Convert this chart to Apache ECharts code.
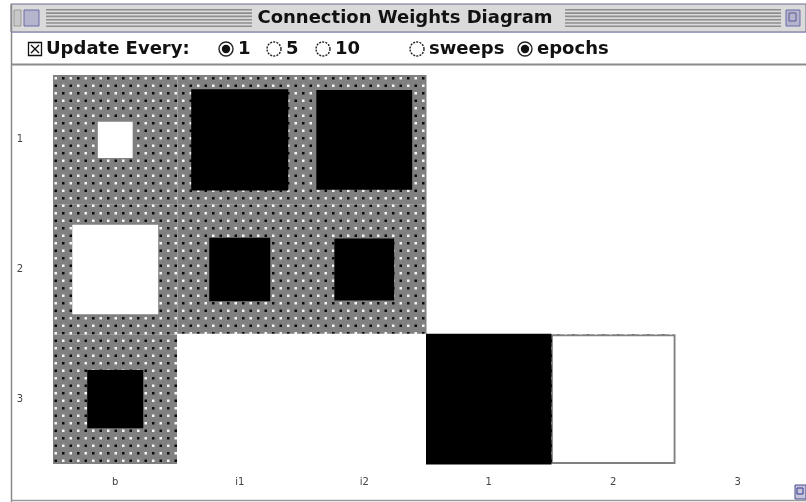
<!DOCTYPE html>
<html><head><meta charset="utf-8">
<script src="https://cdn.jsdelivr.net/npm/echarts@6/dist/echarts.min.js"></script>
<style>html,body{margin:0;padding:0;background:#fff;}#c{width:806px;height:502px;}</style>
</head><body><div id="c"></div>
<script>
// ---- data ----
const toUnits = ['1', '2', '3'];
const fromUnits = ['b', 'i1', 'i2', '1', '2', '3'];
// signed weights, scaled so that 1 fills a whole cell (null = no connection)
const weightsTo1 = [0.28, -0.78, -0.77, null, null, null];
const weightsTo2 = [0.69, -0.49, -0.48, null, null, null];
const weightsTo3 = [-0.45, 1.0, 1.0, -1.0, 0.97, null];
const titleText = 'Connection Weights Diagram';
const updateLabel = 'Update Every:';
const intervalOptions = ['1', '5', '10'];
const intervalSelected = '1';
const modeOptions = ['sweeps', 'epochs'];
const modeSelected = 'epochs';

const weightRows = [weightsTo1, weightsTo2, weightsTo3];
const cells = [];
weightRows.forEach((row, r) => row.forEach((w, c) => { if (w !== null) cells.push([c, r, w]); }));

function makePattern() {
  const cv = document.createElement('canvas');
  cv.width = 15; cv.height = 15;
  const g = cv.getContext('2d');
  g.fillStyle = '#808080'; g.fillRect(0, 0, 15, 15);
  g.fillStyle = '#0a0a0a'; g.fillRect(2, 2, 2.5, 2.5); g.fillRect(9.5, 9.5, 2.5, 2.5);
  g.fillStyle = '#f6f6f6'; g.fillRect(9.5, 2, 2.5, 2.5); g.fillRect(2, 9.5, 2.5, 2.5);
  return cv;
}
const pattern = { image: makePattern(), repeat: 'repeat' };

const chart = echarts.init(document.getElementById('c'), null, { renderer: 'canvas' });
const FONT = '"DejaVu Sans", sans-serif';
const UIFONT = 'bold 18px ' + FONT;

// window chrome
const chrome = [];
chrome.push({ type: 'rect', shape: { x: 11, y: 4, width: 795, height: 28 }, style: { fill: '#dadada', stroke: '#6a6a8a', lineWidth: 1 } });
[[46, 206], [565, 216]].forEach(([x, w]) => {
  for (let i = 0; i < 6; i++) {
    chrome.push({ type: 'rect', shape: { x: x, y: 9 + i * 3.3, width: w, height: 1.6 }, style: { fill: '#8e8e8e' } });
  }
});
chrome.push({ type: 'rect', shape: { x: 14, y: 10, width: 7, height: 16 }, style: { fill: '#c8c8c8', stroke: '#9a9a9a' } });
chrome.push({ type: 'rect', shape: { x: 24, y: 10, width: 15, height: 16 }, style: { fill: '#b4b4cc', stroke: '#6a6aa8' } });
chrome.push({ type: 'rect', shape: { x: 786, y: 10, width: 14, height: 16 }, style: { fill: '#b4b4cc', stroke: '#6a6aa8' } });
chrome.push({ type: 'rect', shape: { x: 789, y: 13, width: 7, height: 8 }, style: { fill: 'none', stroke: '#5a5a98' } });
chrome.push({ type: 'text', x: 405, y: 18, style: { text: titleText, font: UIFONT, fill: '#111', align: 'center', verticalAlign: 'middle' } });
chrome.push({ type: 'line', shape: { x1: 11, y1: 32.5, x2: 806, y2: 32.5 }, style: { stroke: '#a0a0cc', lineWidth: 1 } });
chrome.push({ type: 'line', shape: { x1: 11, y1: 64.5, x2: 806, y2: 64.5 }, style: { stroke: '#8a8a8a', lineWidth: 2 } });
chrome.push({ type: 'line', shape: { x1: 11.5, y1: 4, x2: 11.5, y2: 502 }, style: { stroke: '#8a8a8a', lineWidth: 1.5 } });
chrome.push({ type: 'line', shape: { x1: 11, y1: 500.5, x2: 806, y2: 500.5 }, style: { stroke: '#9a9a9a', lineWidth: 1.5 } });
// checkbox
chrome.push({ type: 'rect', shape: { x: 28.5, y: 42.5, width: 13, height: 13 }, style: { fill: '#fff', stroke: '#111', lineWidth: 1.3 } });
chrome.push({ type: 'line', shape: { x1: 31, y1: 45, x2: 39, y2: 53 }, style: { stroke: '#111', lineWidth: 1.3 } });
chrome.push({ type: 'line', shape: { x1: 39, y1: 45, x2: 31, y2: 53 }, style: { stroke: '#111', lineWidth: 1.3 } });
chrome.push({ type: 'text', x: 46, y: 49, style: { text: updateLabel, font: UIFONT, fill: '#111', verticalAlign: 'middle' } });
function radio(cx, label, on) {
  chrome.push({ type: 'circle', shape: { cx: cx, cy: 49, r: 7 }, style: { fill: '#fff', stroke: '#222', lineWidth: 1.4, lineDash: on ? null : [2, 1.2] } });
  if (on) chrome.push({ type: 'circle', shape: { cx: cx, cy: 49, r: 4.2 }, style: { fill: '#111' } });
  chrome.push({ type: 'text', x: cx + 12, y: 49, style: { text: label, font: UIFONT, fill: '#111', verticalAlign: 'middle' } });
}
const intervalX = [226, 274, 323];
intervalOptions.forEach((o, i) => radio(intervalX[i], o, o === intervalSelected));
const modeX = [417, 525];
modeOptions.forEach((o, i) => radio(modeX[i], o, o === modeSelected));
// resize icon
chrome.push({ type: 'rect', shape: { x: 795, y: 485, width: 11, height: 14 }, style: { fill: '#c4c4dc', stroke: '#4a4a8a' } });
chrome.push({ type: 'rect', shape: { x: 797, y: 488, width: 6, height: 6 }, style: { fill: 'none', stroke: '#3a3a8a' } });

chart.setOption({
  animation: false,
  backgroundColor: '#fff',
  grid: { left: 53, right: 6, top: 75, bottom: 38, containLabel: false },
  xAxis: {
    type: 'category', data: fromUnits, position: 'bottom',
    axisLine: { show: false }, axisTick: { show: false }, splitLine: { show: false },
    axisLabel: { color: '#444', fontFamily: FONT, fontSize: 10, margin: 13 }
  },
  yAxis: {
    type: 'category', data: toUnits, inverse: true,
    axisLine: { show: false }, axisTick: { show: false }, splitLine: { show: false },
    axisLabel: { color: '#444', fontFamily: FONT, fontSize: 10, margin: 33, align: 'center' }
  },
  graphic: chrome,
  series: [
    {
      type: 'custom', name: 'connections', data: cells,
      renderItem: (params, api) => {
        const p = api.coord([api.value(0), api.value(1)]);
        const s = api.size([1, 1]);
        return { type: 'rect', shape: { x: p[0] - s[0] / 2, y: p[1] - s[1] / 2, width: s[0], height: s[1] }, style: { fill: pattern } };
      }
    },
    {
      type: 'custom', name: 'weights', data: cells,
      renderItem: (params, api) => {
        const p = api.coord([api.value(0), api.value(1)]);
        const s = api.size([1, 1]);
        const w = api.value(2);
        const a = Math.abs(w);
        const ww = s[0] * a + (a >= 1 ? 1 : 0), hh = s[1] * a + (a >= 1 ? 1 : 0);
        return { type: 'rect', shape: { x: p[0] - ww / 2, y: p[1] - hh / 2, width: ww, height: hh }, style: { fill: w > 0 ? '#ffffff' : '#000000' } };
      }
    }
  ]
});
</script>
</body></html>
